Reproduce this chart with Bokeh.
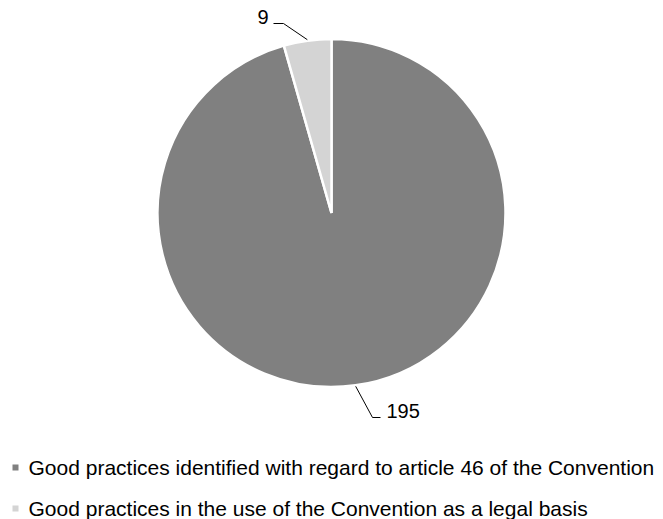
import math

from bokeh.core.properties import value
from bokeh.embed import file_html
from bokeh.models import ColumnDataSource, Range1d
from bokeh.plotting import figure
from bokeh.resources import INLINE

# Data
categories = [
    "Good practices identified with regard to article 46 of the Convention",
    "Good practices in the use of the Convention as a legal basis",
]
counts = [195, 9]
colors = ["#808080", "#d4d4d4"]

W, H = 663, 519
FONT = value("Liberation Sans")


def yy(py):
    """Convert a top-down pixel row to the plot's upward y coordinate."""
    return H - py


p = figure(
    width=W, height=H, output_backend="svg", toolbar_location=None,
    x_range=Range1d(0, W), y_range=Range1d(0, H), min_border=0,
)
p.axis.visible = False
p.grid.visible = False
p.outline_line_color = None
p.background_fill_color = "white"

# Pie geometry: starts at 12 o'clock, runs clockwise
cx, cy, r = 331, yy(212.5), 174
total = sum(counts)
starts, ends, mids = [], [], []
a = math.pi / 2
for c in counts:
    span = 2 * math.pi * c / total
    starts.append(a)
    ends.append(a - span)
    mids.append(a - span / 2)
    a -= span

pie = ColumnDataSource(dict(x=[cx] * len(counts), y=[cy] * len(counts),
                            start=starts, end=ends, color=colors))
p.wedge(x="x", y="y", radius=r, start_angle="start", end_angle="end",
        direction="clock", fill_color="color", line_color="white",
        line_width=2.5, source=pie)

# Data labels with leader lines from the slice edges
label_pos = [(386, yy(410.5), "left", 380, 372, yy(417)),
             (268, yy(16), "right", 273, 283, yy(23))]
for val, m, (tx, ty, align, lx_end, lx_elbow, ly) in zip(counts, mids, label_pos):
    ex = cx + (r + 1) * math.cos(m)
    ey = cy + (r + 1) * math.sin(m)
    p.line([ex, lx_elbow, lx_end], [ey, ly, ly], line_color="black", line_width=1)
    p.text(x=[tx], y=[ty], text=[str(val)], text_font=FONT,
           text_font_size="20px", text_align=align, text_baseline="middle",
           text_color="black")

# Legend
leg_y = [yy(467), yy(508)]
p.scatter(x=[15] * len(categories), y=leg_y, marker="square", size=6,
          fill_color=colors, line_color=None)
p.text(x=[28] * len(categories), y=leg_y, text=categories, text_font=FONT,
       text_font_size="21px", text_align="left", text_baseline="middle",
       text_color="black")

open("out.html", "w").write(file_html(p, INLINE))
